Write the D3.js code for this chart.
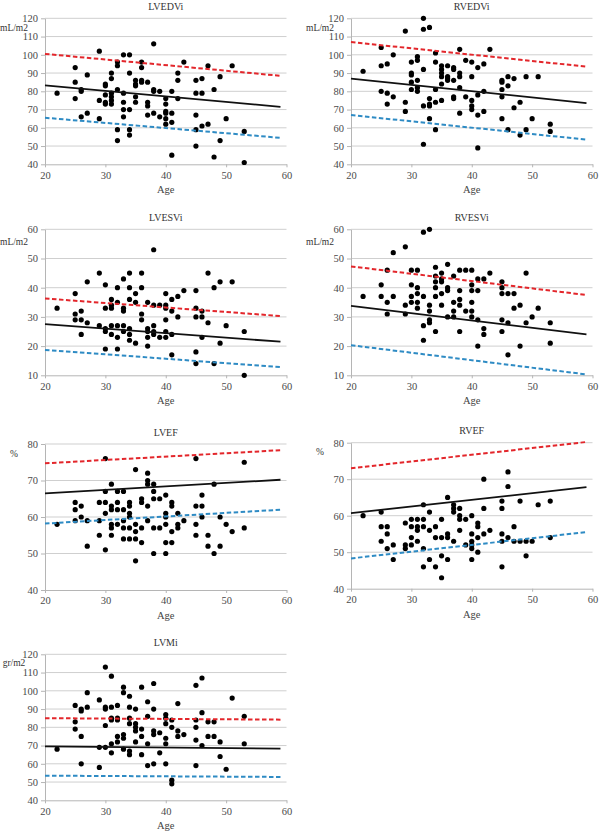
<!DOCTYPE html>
<html>
<head>
<meta charset="utf-8">
<script src="https://cdn.jsdelivr.net/npm/d3@7"></script>
<style>
  body { margin: 0; background: #fff; }
</style>
</head>
<body>
<div id="chart"></div>
<script>
// Points as [age, value]
var lvedvi = [[22,79],[25,93],[25,85],[25,76],[26,81],[26,80],[26,66],[27,89],[27,68],[29,102],[29,75],[29,65],
  [30,84],[30,83],[30,78],[30,74],[30,73],[31,90],[31,87],[31,79],[31,77],[31,75],[31,73],[32,96],[32,94],[32,81],[32,59],[32,53],
  [33,100],[33,79],[33,74],[33,70],[33,66],[34,100],[34,90],[34,70],[34,59],[34,56],[35,86],[35,84],[35,83],[35,77],[35,74],
  [36,96],[36,93],[36,86],[36,85],[37,85],[37,74],[37,72],[37,67],[38,106],[38,81],[38,80],[38,68],[39,80],[39,66],
  [40,76],[40,73],[40,69],[40,68],[40,65],[40,62],[41,80],[41,68],[41,63],[41,45],[42,90],[42,86],[42,76],[43,96],
  [45,86],[45,79],[45,67],[45,59],[45,50],[46,87],[46,79],[46,61],[47,94],[47,62],[48,81],[48,44],[49,88],[49,53],[50,65],[51,94],[53,58],[53,41]];

var rvedvi = [[22,91],[25,104],[25,94],[25,80],[26,95],[26,79],[26,73],[27,100],[27,77],[29,113],[29,74],[29,69],
  [30,96],[30,90],[30,89],[30,85],[30,81],[31,99],[31,97],[31,86],[31,82],[31,80],[32,120],[32,114],[32,92],[32,72],[32,51],
  [33,115],[33,76],[33,73],[33,72],[33,65],[34,101],[34,96],[34,81],[34,74],[34,59],[35,94],[35,92],[35,90],[35,88],[35,84],[35,75],
  [36,94],[36,88],[36,87],[36,86],[37,93],[37,92],[37,86],[37,77],[37,76],[38,103],[38,90],[38,88],[38,82],[38,68],[39,97],[39,77],
  [40,96],[40,88],[40,75],[40,72],[40,70],[41,93],[41,78],[41,67],[41,49],[42,95],[42,80],[42,69],[43,103],
  [45,86],[45,85],[45,81],[45,77],[45,65],[46,88],[46,83],[46,59],[47,87],[47,71],[48,74],[48,56],[49,88],[49,59],[50,65],[51,88],[53,62],[53,58]];

var lvesvi = [[22,33],[25,38],[25,31],[25,29],[26,32],[26,29],[26,24],[27,42],[27,28],[29,45],[29,27],
  [30,41],[30,33],[30,26],[30,25],[30,19],[31,36],[31,34],[31,33],[31,27],[31,24],[32,40],[32,35],[32,27],[32,23],[32,19],
  [33,43],[33,33],[33,32],[33,27],[33,25],[34,45],[34,40],[34,36],[34,26],[34,24],[34,22],[35,38],[35,35],[35,21],
  [36,45],[36,40],[36,31],[36,29],[37,35],[37,26],[37,25],[37,23],[37,20],[38,53],[38,34],[38,27],[38,25],[38,24],[39,34],[39,23],
  [40,38],[40,34],[40,33],[40,29],[40,25],[40,23],[41,36],[41,32],[41,24],[41,17],[42,37],[42,30],[43,39],
  [45,39],[45,33],[45,30],[45,18],[45,14],[46,32],[46,30],[46,23],[47,45],[47,28],[48,40],[48,14],[49,42],[49,21],[50,27],[51,42],[53,25],[53,10]];

var rvesvi = [[22,37],[25,41],[25,37],[26,46],[26,35],[26,31],[27,52],[27,37],[29,54],[29,34],[29,31],
  [30,46],[30,41],[30,37],[30,35],[31,46],[31,40],[31,38],[31,35],[31,33],[32,59],[32,37],[32,27],[32,22],
  [33,60],[33,34],[33,32],[33,29],[33,28],[34,47],[34,44],[34,42],[34,40],[34,37],[34,25],[35,45],[35,43],[35,42],[35,38],[35,34],
  [36,48],[36,40],[36,39],[36,30],[37,44],[37,35],[37,32],[37,30],[38,46],[38,39],[38,36],[38,34],[38,25],[39,46],[39,32],
  [40,46],[40,41],[40,39],[40,35],[40,32],[40,30],[41,43],[41,39],[41,29],[41,20],[42,43],[42,26],[42,24],[43,45],
  [45,42],[45,40],[45,38],[45,29],[45,25],[46,38],[46,28],[46,17],[47,38],[47,33],[48,34],[48,20],[49,45],[49,28],[50,30],[51,33],[53,28],[53,21]];

var lvef = [[22,58],[25,64],[25,62],[25,59],[26,63],[26,60],[27,59],[27,52],[29,64],[29,59],[29,55],
  [30,76],[30,67],[30,64],[30,61],[30,51],[31,69],[31,63],[31,62],[31,58],[31,57],[31,55],[32,67],[32,64],[32,62],[32,58],
  [33,67],[33,62],[33,59],[33,57],[33,54],[34,64],[34,63],[34,61],[34,60],[34,57],[34,54],[35,73],[35,58],[35,56],[35,54],[35,48],
  [36,65],[36,64],[36,57],[36,53],[37,72],[37,70],[37,69],[37,63],[37,59],[38,69],[38,67],[38,65],[38,57],[38,50],[39,65],[39,57],
  [40,66],[40,61],[40,60],[40,58],[40,53],[40,50],[41,64],[41,63],[41,56],[41,53],[42,61],[42,58],[42,57],[43,59],
  [45,76],[45,63],[45,58],[45,55],[46,66],[46,63],[46,60],[47,55],[47,52],[48,69],[48,50],[49,60],[49,52],[50,58],[51,56],[53,75],[53,57]];

var rvef = [[22,60],[25,61],[25,57],[25,53],[26,57],[26,55],[26,51],[27,52],[27,48],[29,58],[29,52],[29,51],
  [30,59],[30,57],[30,54],[30,52],[31,59],[31,57],[31,56],[31,53],[32,63],[32,59],[32,57],[32,51],[32,46],
  [33,61],[33,56],[33,48],[34,57],[34,54],[34,46],[35,59],[35,54],[35,49],[35,43],
  [36,65],[36,55],[36,54],[36,48],[37,63],[37,62],[37,61],[37,53],[38,62],[38,60],[38,59],[38,56],[39,59],[39,52],
  [40,60],[40,55],[40,53],[40,52],[40,51],[40,48],[41,58],[41,57],[41,54],[41,50],[42,70],[42,62],[42,55],[43,56],
  [45,64],[45,62],[45,55],[45,53],[45,46],[46,72],[46,68],[46,54],[47,57],[47,53],[48,64],[48,53],[49,53],[49,49],[50,53],[51,63],[53,64],[53,54]];

var lvmi = [[22,68],[25,92],[25,83],[25,79],[26,90],[26,89],[26,75],[26,60],[27,99],[27,91],[29,95],[29,69],[29,58],
  [30,113],[30,91],[30,90],[30,81],[30,69],[31,108],[31,91],[31,85],[31,84],[31,71],[31,66],[32,92],[32,85],[32,84],[32,75],[32,72],
  [33,102],[33,99],[33,76],[33,74],[33,68],[34,97],[34,91],[34,85],[34,82],[34,67],[34,65],[35,90],[35,82],[35,80],[35,78],[35,72],
  [36,102],[36,79],[36,75],[36,65],[37,94],[37,86],[37,71],[37,59],[38,104],[38,90],[38,78],[38,76],[38,60],[39,77],[39,66],
  [40,87],[40,85],[40,82],[40,74],[40,71],[40,60],[41,84],[41,80],[41,51],[41,49],[42,93],[42,78],[42,75],[43,76],
  [45,103],[45,84],[45,80],[45,73],[45,59],[46,107],[46,88],[46,70],[47,83],[47,75],[48,83],[48,75],[49,72],[49,64],[50,57],[51,96],[53,86],[53,71]];

// Lines: value at age 20 and at age 59 for [mean, upper, lower]
var lineAges = [20, 59];
var lvedviLines = [[83.2, 71.5], [100.5, 88.5], [65.5, 54.5]];
var rvedviLines = [[87, 73.5], [107, 93.5], [67, 53.5]];
var lvesviLines = [[27.5, 21.5], [36.3, 30.3], [18.7, 12.8]];
var rvesviLines = [[33.8, 24], [47.3, 37.5], [20.3, 10.3]];
var lvefLines = [[66.5, 70.2], [74.7, 78.3], [58.2, 62]];
var rvefLines = [[60.7, 67.8], [73, 80.2], [48.3, 55.5]];
var lvmiLines = [[69.5, 68.3], [85, 84.2], [53.5, 52.8]];

var xTicks = [20, 30, 40, 50, 60];

var panels = [
  {title: "LVEDVi", unit: "mL/m2", pts: lvedvi, lines: lvedviLines, y: [40, 120], left: 45, top: 18.3, unitDy: 9},
  {title: "RVEDVi", unit: "mL/m2", pts: rvedvi, lines: rvedviLines, y: [40, 120], left: 351, top: 18.3, unitDy: 9},
  {title: "LVESVi", unit: "mL/m2", pts: lvesvi, lines: lvesviLines, y: [10, 60], left: 45, top: 229.3, unitDy: 12},
  {title: "RVESVi", unit: "mL/m2", pts: rvesvi, lines: rvesviLines, y: [10, 60], left: 351, top: 229.3, unitDy: 12},
  {title: "LVEF", unit: "%", pts: lvef, lines: lvefLines, y: [40, 80], left: 45, top: 444, unitDy: 9},
  {title: "RVEF", unit: "%", pts: rvef, lines: rvefLines, y: [40, 80], left: 351, top: 442.7, unitDy: 9},
  {title: "LVMi", unit: "gr/m2", pts: lvmi, lines: lvmiLines, y: [40, 120], left: 45, top: 654.3, unitDy: 8.5}
];

var lineColors = ["#111", "#e3262b", "#2e8bc4"];
var font = "'Liberation Serif', 'Times New Roman', 'DejaVu Serif', serif";

var w = 600, h = 832, pw = 241.5, ph = 146;

var svg = d3.select("#chart").append("svg")
  .attr("width", w)
  .attr("height", h)
  .attr("font-family", font);

panels.forEach(function(p) {
  var g = svg.append("g").attr("transform", "translate(" + p.left + "," + p.top + ")");

  var x = d3.scaleLinear().domain([20, 60]).range([0, pw]);
  var y = d3.scaleLinear().domain(p.y).range([ph, 0]);
  var yTicks = d3.range(p.y[0], p.y[1] + 0.1, 10);

  //Gridlines
  g.selectAll(".grid")
    .data(yTicks.slice(1))
    .enter()
    .append("line")
    .attr("x1", 0).attr("x2", pw)
    .attr("y1", function(d) { return y(d); })
    .attr("y2", function(d) { return y(d); })
    .attr("stroke", "#cfcfcf")
    .attr("stroke-width", 1);

  //Axes
  var yAxis = d3.axisLeft(y).tickValues(yTicks).tickSize(4).tickSizeOuter(0).tickPadding(3);
  var xAxis = d3.axisBottom(x).tickValues(xTicks).tickSize(3).tickSizeOuter(0).tickPadding(4);

  var ya = g.append("g").call(yAxis);
  var xa = g.append("g").attr("transform", "translate(0," + ph + ")").call(xAxis);

  [ya, xa].forEach(function(a) {
    a.attr("font-family", font).attr("font-size", 10.5);
    a.select(".domain").attr("stroke", "#b5b5b5");
    a.selectAll(".tick line").attr("stroke", "#b5b5b5");
    a.selectAll(".tick text").attr("fill", "#4a4a4a");
  });

  //Title, unit, axis label
  g.append("text")
    .attr("x", pw / 2).attr("y", -8.5)
    .attr("text-anchor", "middle")
    .attr("fill", "#333")
    .attr("font-size", 10)
    .text(p.title);

  g.append("text")
    .attr("x", -31).attr("y", p.unitDy + 3.5)
    .attr("text-anchor", "middle")
    .attr("fill", "#333")
    .attr("font-size", 9.5)
    .text(p.unit);

  g.append("text")
    .attr("x", pw / 2).attr("y", ph + 29)
    .attr("text-anchor", "middle")
    .attr("fill", "#444")
    .attr("font-size", 10.5)
    .text("Age");

  //Points
  g.selectAll(".pt")
    .data(p.pts)
    .enter()
    .append("circle")
    .attr("cx", function(d) { return x(d[0]); })
    .attr("cy", function(d) { return y(d[1]); })
    .attr("r", 2.6)
    .attr("fill", "#000");

  //Mean line and limit lines
  var line = d3.line()
    .x(function(d, i) { return x(lineAges[i]); })
    .y(function(d) { return y(d); });

  p.lines.forEach(function(vals, i) {
    g.append("path")
      .attr("d", line(vals))
      .attr("fill", "none")
      .attr("stroke", lineColors[i])
      .attr("stroke-width", i == 0 ? 1.8 : 2)
      .attr("stroke-dasharray", i == 0 ? null : "4.5,2.5");
  });
});
</script>
</body>
</html>
